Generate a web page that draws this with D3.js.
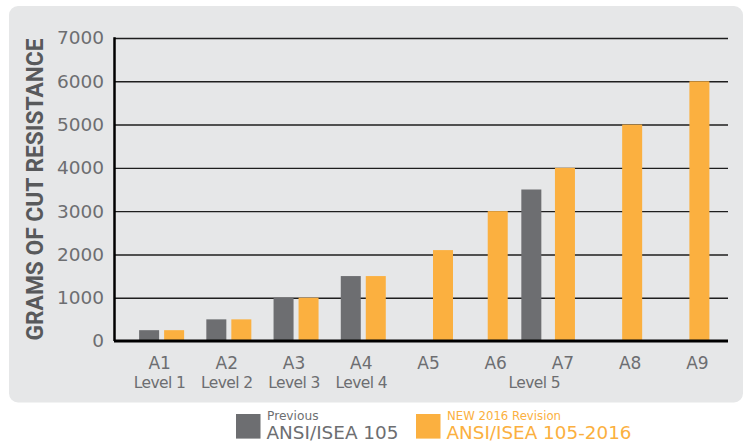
<!DOCTYPE html>
<html>
<head>
<meta charset="utf-8">
<script src="https://cdn.jsdelivr.net/npm/d3@7"></script>
<style>
  html, body { margin: 0; padding: 0; background: #fff; }
  #chart { width: 744px; height: 442px; }
</style>
</head>
<body>
<div id="chart"></div>
<script>
(function () {
  // ── DATA ──────────────────────────────────────────────────────────────────
  // Grams of cut resistance, ANSI/ISEA 105 levels vs. 2016 revision A-levels
  const categories   = ["A1", "A2", "A3", "A4", "A5", "A6", "A7", "A8", "A9"];
  const newValues    = [250, 500, 1000, 1500, 2100, 3000, 4000, 5000, 6000];
  const prevValues   = [250, 500, 1000, 1500, null, null, null, null, null];
  // Previous Level 5 had a single threshold, drawn between A6 and A7
  const prevLevel5   = { value: 3500, between: ["A6", "A7"] };
  const levelLabels  = ["Level 1", "Level 2", "Level 3", "Level 4", "Level 5"];
  const levelAnchors = ["A1", "A2", "A3", "A4", "L5"];
  const pairedCats   = ["A1", "A2", "A3", "A4", "A5"];   // drawn as prev/new pairs
  const yTicks       = [0, 1000, 2000, 3000, 4000, 5000, 6000, 7000];

  const legendItems = [
    { key: "prev", small: "Previous",          big: "ANSI/ISEA 105" },
    { key: "new",  small: "NEW 2016 Revision", big: "ANSI/ISEA 105-2016" },
  ];

  const COLORS = { prev: "#6d6e71", new: "#fbb040" };
  const TEXT   = "#6d6e71";
  const FONT   = "'DejaVu Sans', sans-serif";

  // ── LAYOUT ────────────────────────────────────────────────────────────────
  const totalW = 744, totalH = 442;
  const plot   = { left: 114, right: 728, top: 38, bottom: 341 };
  const barW   = 20, gap = 5;

  const svg = d3.select("#chart").append("svg")
    .attr("width", totalW)
    .attr("height", totalH)
    .style("display", "block");

  // panel
  svg.append("rect")
    .attr("x", 9).attr("y", 6)
    .attr("width", 734).attr("height", 396.5)
    .attr("rx", 9)
    .attr("fill", "#e6e7e8");

  // ── SCALES ────────────────────────────────────────────────────────────────
  const x = d3.scaleBand().domain(categories).range([128, 733]).padding(0);
  const cx = c => x(c) + x.bandwidth() / 2;

  const y = d3.scaleLinear().domain([0, 7000]).range([plot.bottom, plot.top]);

  const l5x = (cx(prevLevel5.between[0]) + cx(prevLevel5.between[1])) / 2;

  // ── GRID ──────────────────────────────────────────────────────────────────
  svg.append("g")
    .attr("transform", `translate(${plot.left},0)`)
    .call(d3.axisLeft(y).tickValues(yTicks.filter(d => d > 0))
      .tickSize(-(plot.right - plot.left)).tickFormat(""))
    .call(ax => ax.select(".domain").remove())
    .call(ax => ax.selectAll(".tick line")
      .attr("stroke", "#1e1e1e")
      .attr("stroke-width", 1.4));

  // ── Y AXIS LABELS ─────────────────────────────────────────────────────────
  svg.append("g")
    .attr("transform", `translate(${plot.left},0)`)
    .call(d3.axisLeft(y).tickValues(yTicks).tickSize(0).tickPadding(10)
      .tickFormat(d3.format("d")))
    .call(ax => ax.select(".domain").remove())
    .call(ax => ax.selectAll(".tick text")
      .attr("fill", TEXT)
      .attr("font-family", FONT)
      .attr("font-size", "18.5px")
      .attr("dy", "0.32em"));

  svg.append("text")
    .attr("transform", `translate(43,${(plot.top + plot.bottom) / 2}) rotate(-90)`)
    .attr("text-anchor", "middle")
    .attr("fill", "#58595b")
    .attr("font-family", "Roboto, 'DejaVu Sans', sans-serif")
    .attr("font-weight", "bold")
    .attr("font-size", "23.5px")
    .attr("textLength", 302)
    .attr("lengthAdjust", "spacingAndGlyphs")
    .text("GRAMS OF CUT RESISTANCE");

  // ── BARS ──────────────────────────────────────────────────────────────────
  const barX = (c, key) => {
    if (pairedCats.includes(c)) {
      return key === "prev" ? cx(c) - gap / 2 - barW : cx(c) + gap / 2;
    }
    return cx(c) - barW / 2;
  };

  const prevBars = categories
    .map((c, i) => ({ c, v: prevValues[i], x: barX(c, "prev") }))
    .filter(d => d.v != null);
  prevBars.push({ c: "L5", v: prevLevel5.value, x: l5x - barW / 2 });

  const newBars = categories.map((c, i) => ({ c, v: newValues[i], x: barX(c, "new") }));

  svg.append("g").selectAll("rect")
    .data(prevBars)
    .join("rect")
    .attr("x", d => d.x)
    .attr("y", d => y(d.v))
    .attr("width", barW)
    .attr("height", d => y(0) - y(d.v))
    .attr("fill", COLORS.prev);

  svg.append("g").selectAll("rect")
    .data(newBars)
    .join("rect")
    .attr("x", d => d.x)
    .attr("y", d => y(d.v))
    .attr("width", barW)
    .attr("height", d => y(0) - y(d.v))
    .attr("fill", COLORS.new);

  // ── AXIS LINES ────────────────────────────────────────────────────────────
  svg.append("line")
    .attr("x1", plot.left).attr("x2", plot.right)
    .attr("y1", y(0)).attr("y2", y(0))
    .attr("stroke", "#000").attr("stroke-width", 3);

  svg.append("line")
    .attr("x1", plot.left + 0.5).attr("x2", plot.left + 0.5)
    .attr("y1", y(7000) - 0.7).attr("y2", y(0))
    .attr("stroke", "#000").attr("stroke-width", 2.5);

  // ── X LABELS ──────────────────────────────────────────────────────────────
  svg.append("g").selectAll("text")
    .data(categories)
    .join("text")
    .attr("x", d => cx(d) - 2)
    .attr("y", 369)
    .attr("text-anchor", "middle")
    .attr("fill", TEXT)
    .attr("font-family", FONT)
    .attr("font-size", "17px")
    .text(d => d);

  svg.append("g").selectAll("text")
    .data(levelLabels)
    .join("text")
    .attr("x", (d, i) => levelAnchors[i] === "L5" ? l5x + 3 : cx(levelAnchors[i]) - 2)
    .attr("y", 388)
    .attr("text-anchor", "middle")
    .attr("fill", TEXT)
    .attr("font-family", FONT)
    .attr("font-size", "15.5px")
    .attr("letter-spacing", "-0.6px")
    .text(d => d);

  // ── LEGEND ────────────────────────────────────────────────────────────────
  const legendX = [236, 416];
  const leg = svg.append("g").selectAll("g")
    .data(legendItems)
    .join("g")
    .attr("transform", (d, i) => `translate(${legendX[i]},414)`);

  leg.append("rect")
    .attr("width", 24.5).attr("height", 24.6)
    .attr("fill", d => COLORS[d.key]);

  leg.append("text")
    .attr("x", 31).attr("y", 5.5)
    .attr("fill", d => COLORS[d.key])
    .attr("font-family", FONT)
    .attr("font-size", "12px")
    .attr("textLength", d => d.key === "prev" ? 51.5 : 114)
    .attr("lengthAdjust", "spacingAndGlyphs")
    .text(d => d.small);

  leg.append("text")
    .attr("x", 30.5).attr("y", 25.3)
    .attr("fill", d => COLORS[d.key])
    .attr("font-family", FONT)
    .attr("font-size", "18px")
    .attr("textLength", d => d.key === "prev" ? 132 : 185)
    .attr("lengthAdjust", "spacingAndGlyphs")
    .text(d => d.big);
})();
</script>
</body>
</html>
